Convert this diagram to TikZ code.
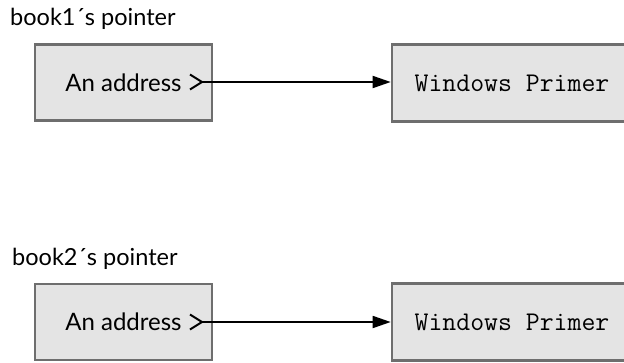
\documentclass[tikz,border=0pt]{standalone}
\usepackage{fontspec}
\setmainfont{Lato}
\usetikzlibrary{arrows.meta}
\definecolor{boxfill}{HTML}{E4E4E4}
\definecolor{boxline}{HTML}{6E6E6E}
\tikzset{
  ptrbox/.style={draw=boxline, line width=2.6pt, fill=boxfill, minimum width=177pt, minimum height=76pt, inner sep=0pt, font=\fontsize{24}{28}\selectfont},
  valbox/.style={draw=boxline, line width=2.6pt, fill=boxfill, minimum width=240pt, minimum height=77pt, inner sep=0pt, font=\ttfamily\fontsize{27}{30}\selectfont},
  lbl/.style={anchor=base west, inner sep=0pt, font=\fontsize{23.5}{26}\selectfont},
  link/.style={line width=1.8pt, {Straight Barb[reversed,length=12pt,width=15pt,line width=2pt]}-{Triangle[length=18pt,width=12pt]}}
}
\begin{document}
\begin{tikzpicture}[x=1pt,y=-1pt]
\useasboundingbox (0,0) rectangle (624,362);
\node[lbl] (l1) at (10,25) {book1´s pointer};
\node[ptrbox] (p1) at (123.5,82.5) {An address};
\node[valbox] (v1) at (512,83) {Windows Primer};
\coordinate (s1) at (189,82);
\draw[link] (s1) -- (v1.west |- s1);

\node[lbl] (l2) at (12,265) {book2´s pointer};
\node[ptrbox] (p2) at (123.5,322) {An address};
\node[valbox] (v2) at (512,322) {Windows Primer};
\coordinate (s2) at (189,322);
\draw[link] (s2) -- (v2.west |- s2);
\end{tikzpicture}
\end{document}
